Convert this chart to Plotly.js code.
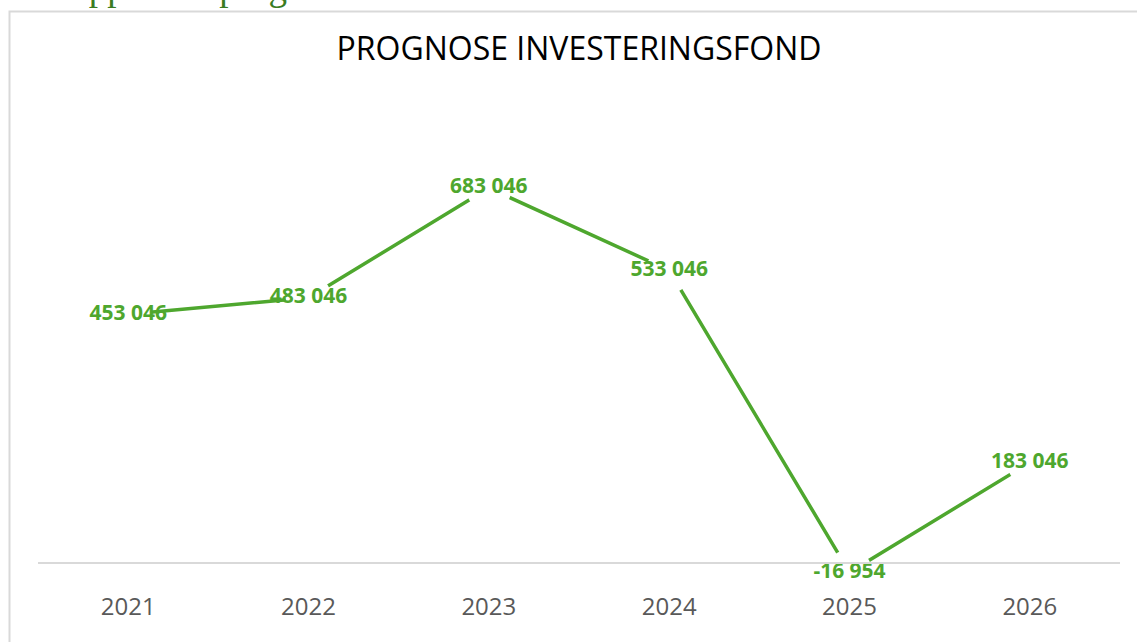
<!DOCTYPE html>
<html>
<head>
<meta charset="utf-8">
<script src="https://cdn.plot.ly/plotly-3.0.1.min.js"></script>
<style>
  html, body { margin: 0; padding: 0; background: #ffffff; }
  #chart { width: 1137px; height: 642px; }
</style>
</head>
<body>
<div id="chart"></div>
<script>
// ---- data ----
const years = ["2021", "2022", "2023", "2024", "2025", "2026"];
const fondValues = [453046, 483046, 683046, 533046, -16954, 183046];
const chartTitle = "PROGNOSE INVESTERINGSFOND";
const headingText = "Oppdatert prognose";

function fmt(v) {
  const s = Math.abs(Math.round(v)).toString().replace(/\B(?=(\d{3})+(?!\d))/g, " ");
  return (v < 0 ? "-" : "") + s;
}
const labelTexts = fondValues.map(fmt);

const green = "#4EA72E";

const trace = {
  x: years,
  y: fondValues,
  type: "scatter",
  mode: "lines+markers+text",
  line: { color: green, width: 3.5 },
  marker: { color: "#ffffff", size: 46, line: { width: 0 } },
  text: labelTexts,
  texttemplate: "%{text}",
  textposition: "middle center",
  textfont: { family: "Open Sans", size: 21, color: green, weight: "bold" },
  cliponaxis: false,
  hoverinfo: "skip"
};

const layout = {
  width: 1137,
  height: 642,
  margin: { l: 38, r: 17, t: 100, b: 52 },
  paper_bgcolor: "#ffffff",
  plot_bgcolor: "#ffffff",
  showlegend: false,
  title: {
    text: chartTitle,
    font: { family: "Open Sans", size: 32, color: "#000000" },
    x: 0.5, xref: "paper", xanchor: "center",
    y: 1 - 49 / 642, yref: "container", yanchor: "middle"
  },
  xaxis: {
    type: "category",
    range: [-0.5, 5.5],
    showgrid: false,
    showline: false,
    zeroline: false,
    ticks: "",
    tickfont: { family: "Open Sans", size: 24, color: "#595959" },
    fixedrange: true
  },
  yaxis: {
    range: [-49180, 843352],
    showgrid: false,
    showline: false,
    zeroline: false,
    showticklabels: false,
    ticks: "",
    fixedrange: true
  },
  shapes: [
    {
      type: "line", xref: "paper", yref: "y",
      x0: 0, x1: 1, y0: 0, y1: 0,
      line: { color: "#D9D9D9", width: 2 },
      layer: "above"
    },
    {
      type: "rect", xref: "paper", yref: "paper",
      x0: (9.5 - 38) / 1082, x1: (1150 - 38) / 1082,
      y0: (590 - 660) / 490, y1: (590 - 11.5) / 490,
      line: { color: "#D9D9D9", width: 2 },
      fillcolor: "rgba(0,0,0,0)",
      layer: "below"
    }
  ],
  annotations: [
    {
      text: headingText,
      xref: "paper", yref: "paper",
      x: (60 - 38) / 1082, xanchor: "left",
      y: (590 - 10) / 490, yanchor: "bottom",
      showarrow: false,
      font: { family: "Liberation Serif", size: 37, color: "#3A7C22" }
    }
  ]
};

Plotly.newPlot("chart", [trace], layout, { staticPlot: true, displayModeBar: false });
</script>
</body>
</html>
